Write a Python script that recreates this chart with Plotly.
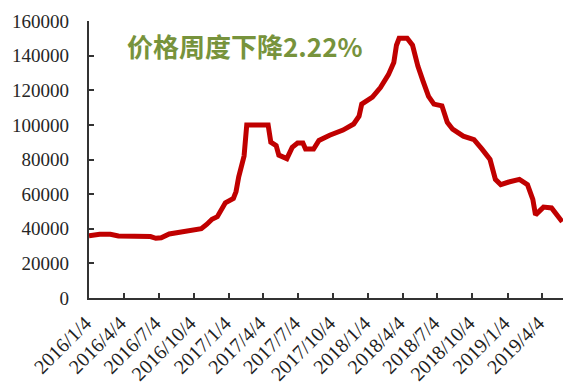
import plotly.graph_objects as go

# Weekly price series (Monday dates) and values
dates = [
    "2016-01-04", "2016-02-01", "2016-02-29", "2016-03-21", "2016-05-02",
    "2016-06-13", "2016-06-27", "2016-07-11", "2016-08-01", "2016-08-29",
    "2016-09-26", "2016-10-24", "2016-11-07", "2016-11-21", "2016-12-05",
    "2016-12-19", "2016-12-26", "2017-01-16", "2017-01-23", "2017-01-30",
    "2017-02-13", "2017-02-20", "2017-04-17", "2017-04-24", "2017-05-08",
    "2017-05-15", "2017-06-05", "2017-06-19", "2017-07-03", "2017-07-17",
    "2017-07-24", "2017-08-14", "2017-08-28", "2017-09-25", "2017-10-30",
    "2017-11-27", "2017-12-11", "2017-12-18", "2018-01-15", "2018-02-05",
    "2018-02-26", "2018-03-12", "2018-03-19", "2018-03-26", "2018-04-16",
    "2018-04-30", "2018-05-14", "2018-05-28", "2018-06-11", "2018-06-25",
    "2018-07-16", "2018-07-30", "2018-08-13", "2018-09-10", "2018-10-08",
    "2018-10-29", "2018-11-19", "2018-12-03", "2018-12-17", "2019-01-07",
    "2019-02-04", "2019-02-25", "2019-03-11", "2019-03-18", "2019-04-08",
    "2019-04-29", "2019-05-13", "2019-05-27",
]
prices = [
    36000, 36800, 36800, 35800, 35700,
    35500, 34500, 34800, 37000, 38000,
    39000, 40000, 42500, 45500, 47000,
    52500, 55000, 57500, 61500, 70000,
    82000, 100000, 100000, 90000, 88000,
    82500, 80500, 87000, 89500, 89500,
    86000, 86000, 91000, 94000, 97000,
    100500, 105000, 112000, 116000, 121500,
    129000, 136000, 146000, 150000, 150000,
    146000, 134000, 125000, 116500, 112000,
    111000, 101500, 97500, 93500, 91500,
    86000, 80000, 68500, 65500, 67000,
    68500, 65500, 57000, 48000, 52500,
    52000, 48000, 44000,
]

# Quarterly tick positions and labels
tick_dates = [
    "2016-01-04", "2016-04-04", "2016-07-04", "2016-10-04",
    "2017-01-04", "2017-04-04", "2017-07-04", "2017-10-04",
    "2018-01-04", "2018-04-04", "2018-07-04", "2018-10-04",
    "2019-01-04", "2019-04-04",
]
tick_labels = [
    "2016/1/4", "2016/4/4", "2016/7/4", "2016/10/4",
    "2017/1/4", "2017/4/4", "2017/7/4", "2017/10/4",
    "2018/1/4", "2018/4/4", "2018/7/4", "2018/10/4",
    "2019/1/4", "2019/4/4",
]
y_ticks = [0, 20000, 40000, 60000, 80000, 100000, 120000, 140000, 160000]

title_text = "价格周度下降2.22%"

NBSP = "\u00a0"  # trailing spacing keeps labels clear of the axis line

fig = go.Figure()
fig.add_trace(go.Scatter(
    x=dates, y=prices, mode="lines",
    line=dict(color="#C00000", width=5),
    showlegend=False,
))

fig.update_layout(
    width=563, height=385,
    margin=dict(l=89, r=0, t=21, b=87),
    paper_bgcolor="white", plot_bgcolor="white",
)
fig.update_xaxes(
    type="date",
    range=["2016-01-04", "2019-05-29"],
    tickmode="array", tickvals=tick_dates,
    ticktext=[t + NBSP for t in tick_labels],
    tickangle=-45,
    tickfont=dict(family="Times New Roman", size=20, color="#1f1f1f"),
    ticks="inside", ticklen=5, tickwidth=1.5, tickcolor="#333333",
    showline=True, linecolor="#333333", linewidth=2,
    showgrid=False, zeroline=False,
)
fig.update_yaxes(
    range=[0, 160000],
    tickmode="array", tickvals=y_ticks,
    ticktext=[str(v) + NBSP * 3 for v in y_ticks],
    tickfont=dict(family="Liberation Serif", size=19, color="#262626"),
    ticks="inside", ticklen=5, tickwidth=1.5, tickcolor="#333333",
    showline=True, linecolor="#333333", linewidth=2,
    showgrid=False, zeroline=False,
)
fig.add_annotation(
    text="<b>" + title_text + "</b>",
    xref="paper", yref="paper",
    x=(125 - 89) / 474, y=(298 - 46) / 277,
    xanchor="left", yanchor="middle", showarrow=False,
    font=dict(family="Noto Sans CJK SC", size=26, color="#77933C"),
)

fig.write_html("out.html")
